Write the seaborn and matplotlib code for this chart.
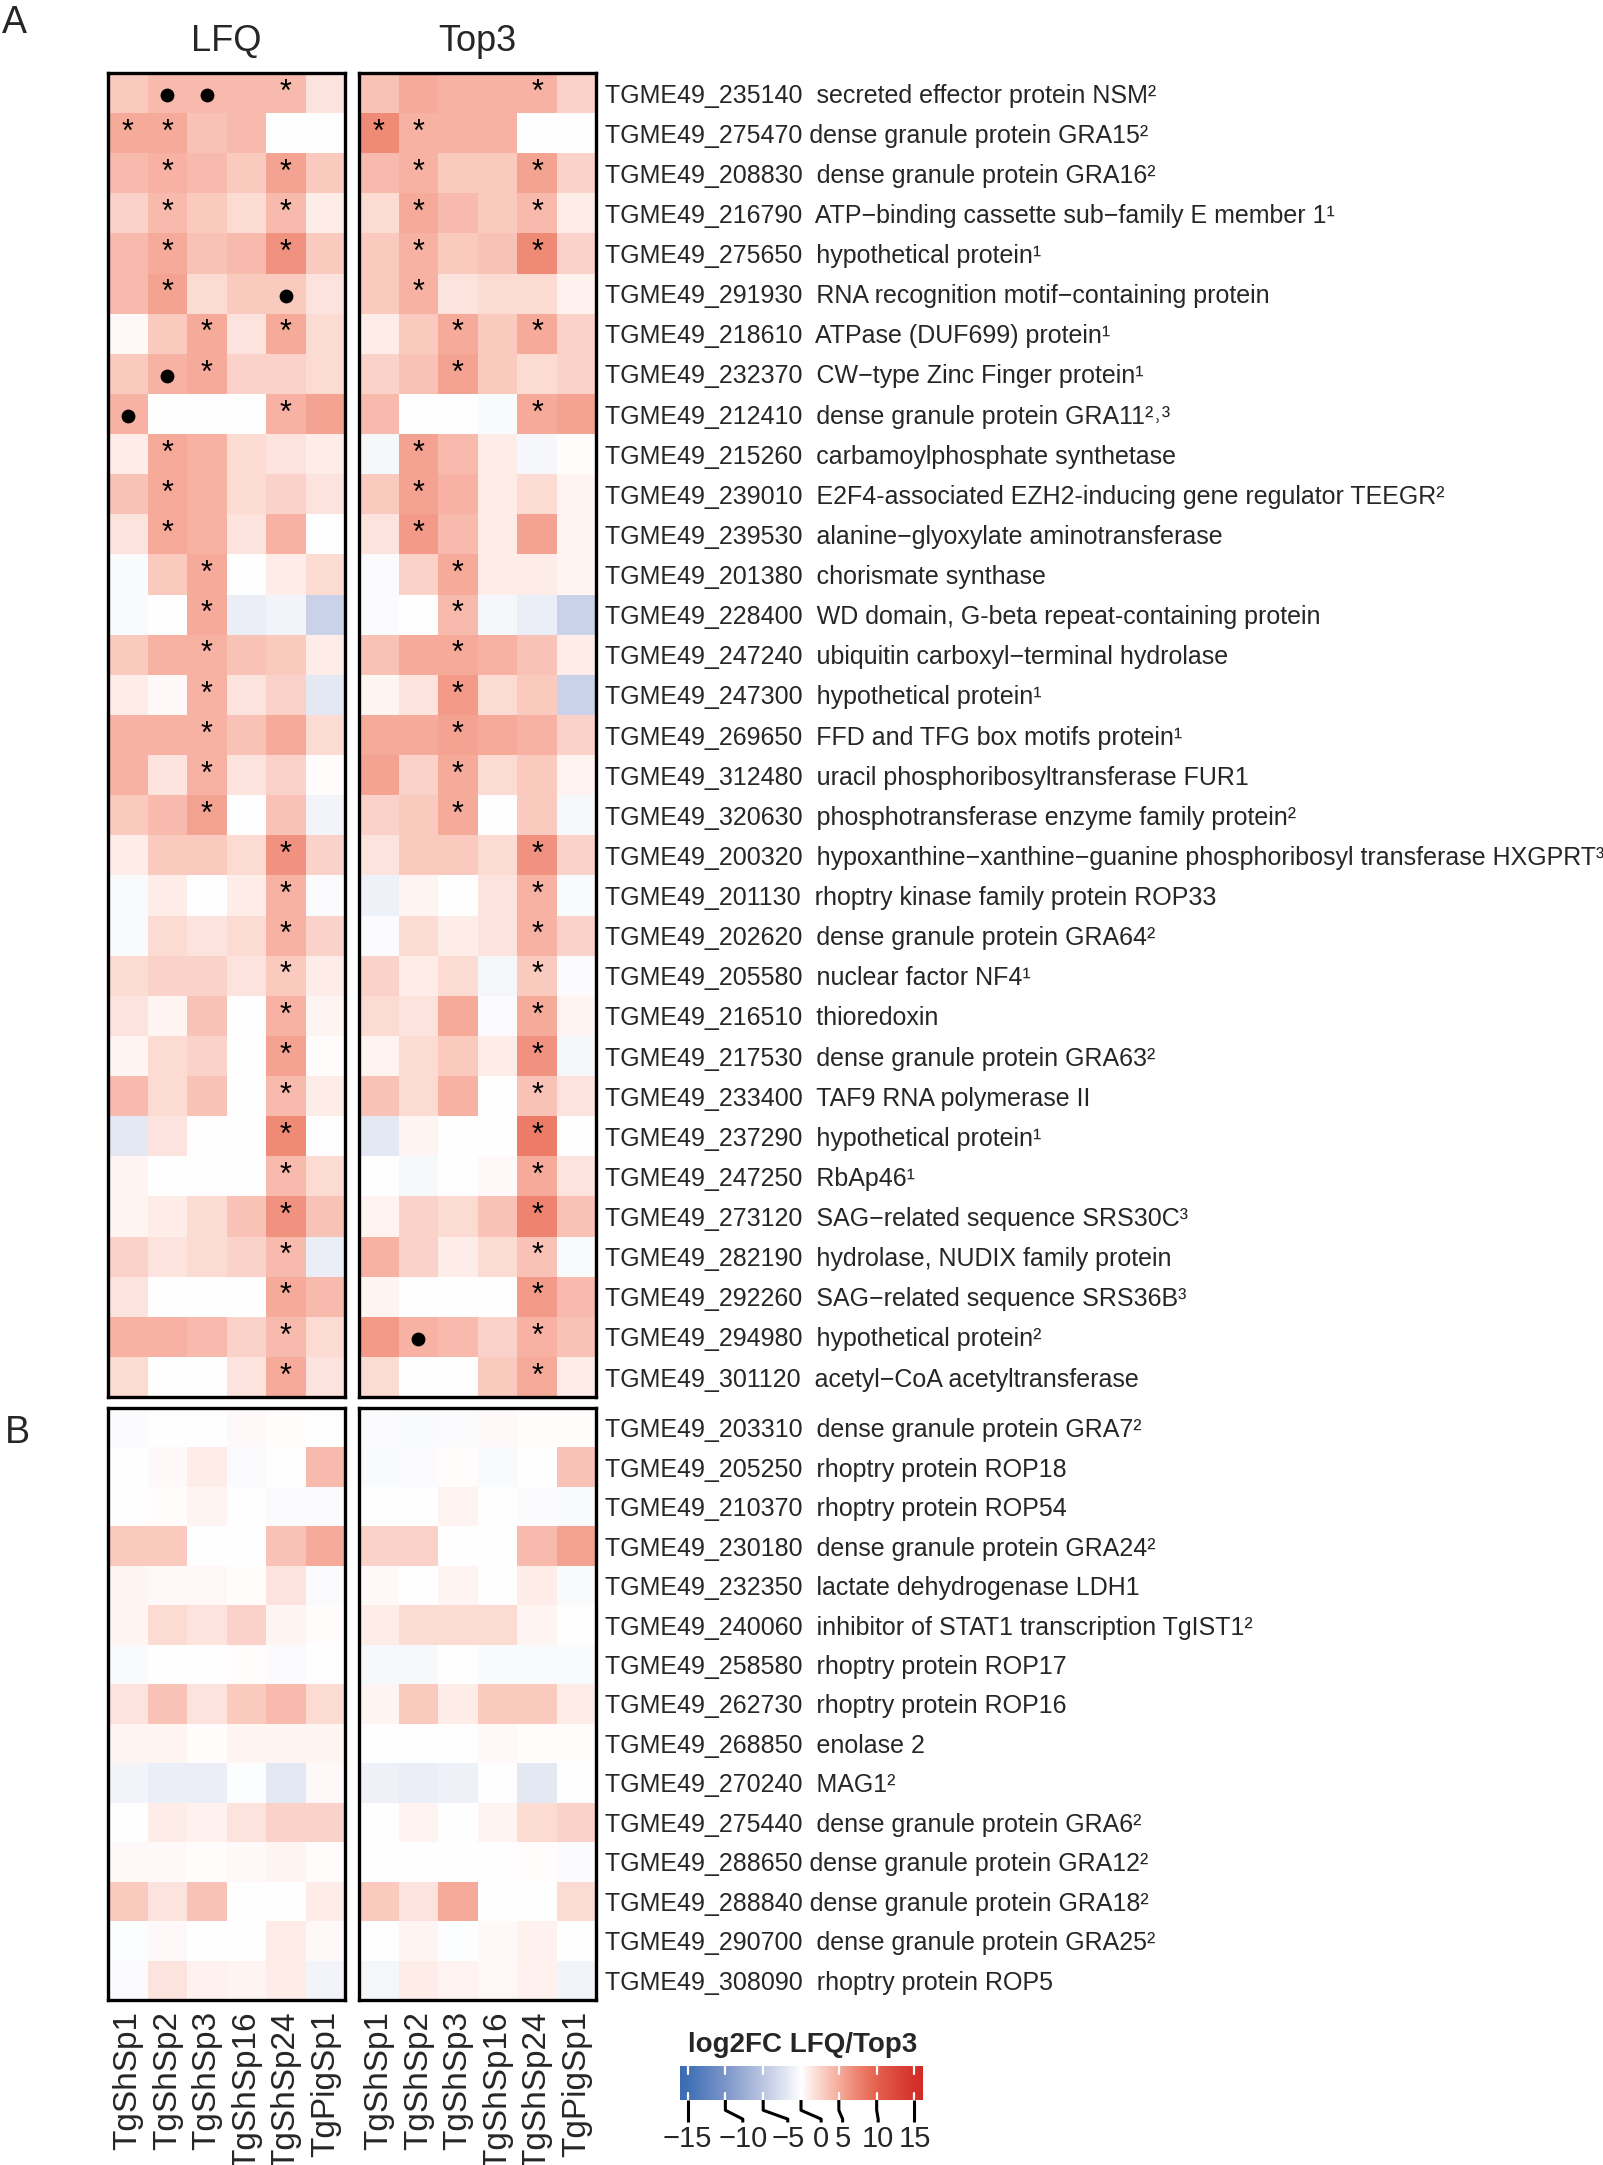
import numpy as np
import pandas as pd
import seaborn as sns
import matplotlib
matplotlib.use("Agg")
import matplotlib.pyplot as plt
from matplotlib.colors import LinearSegmentedColormap
from matplotlib.transforms import blended_transform_factory

# strains (columns of each heatmap)
strains = ["TgShSp1", "TgShSp2", "TgShSp3", "TgShSp16", "TgShSp24", "TgPigSp1"]

# ---- panel A: significantly different proteins ----
genes_a = [
    "TGME49_235140  secreted effector protein NSM²",
    "TGME49_275470 dense granule protein GRA15²",
    "TGME49_208830  dense granule protein GRA16²",
    "TGME49_216790  ATP−binding cassette sub−family E member 1¹",
    "TGME49_275650  hypothetical protein¹",
    "TGME49_291930  RNA recognition motif−containing protein",
    "TGME49_218610  ATPase (DUF699) protein¹",
    "TGME49_232370  CW−type Zinc Finger protein¹",
    "TGME49_212410  dense granule protein GRA11²˒³",
    "TGME49_215260  carbamoylphosphate synthetase",
    "TGME49_239010  E2F4-associated EZH2-inducing gene regulator TEEGR²",
    "TGME49_239530  alanine−glyoxylate aminotransferase",
    "TGME49_201380  chorismate synthase",
    "TGME49_228400  WD domain, G-beta repeat-containing protein",
    "TGME49_247240  ubiquitin carboxyl−terminal hydrolase",
    "TGME49_247300  hypothetical protein¹",
    "TGME49_269650  FFD and TFG box motifs protein¹",
    "TGME49_312480  uracil phosphoribosyltransferase FUR1",
    "TGME49_320630  phosphotransferase enzyme family protein²",
    "TGME49_200320  hypoxanthine−xanthine−guanine phosphoribosyl transferase HXGPRT³",
    "TGME49_201130  rhoptry kinase family protein ROP33",
    "TGME49_202620  dense granule protein GRA64²",
    "TGME49_205580  nuclear factor NF4¹",
    "TGME49_216510  thioredoxin",
    "TGME49_217530  dense granule protein GRA63²",
    "TGME49_233400  TAF9 RNA polymerase II",
    "TGME49_237290  hypothetical protein¹",
    "TGME49_247250  RbAp46¹",
    "TGME49_273120  SAG−related sequence SRS30C³",
    "TGME49_282190  hydrolase, NUDIX family protein",
    "TGME49_292260  SAG−related sequence SRS36B³",
    "TGME49_294980  hypothetical protein²",
    "TGME49_301120  acetyl−CoA acetyltransferase",
]

lfq_a = [
    [3, 4, 4, 4, 4, 1.5],
    [5, 5, 3.5, 4, 0, 0],
    [4, 4.5, 4, 3, 5.5, 3],
    [2.5, 4, 3, 2, 4, 1],
    [4, 5, 3.5, 4, 6.5, 3],
    [4, 5.5, 2, 3, 3, 1.5],
    [0.3, 3, 5, 1.5, 5, 2],
    [3, 4.5, 5, 2.5, 2.5, 2],
    [4.5, 0, 0, 0, 4.5, 5.5],
    [1, 5, 4.5, 2, 1.5, 1],
    [3.5, 5, 4.5, 2, 2.5, 1.5],
    [1.5, 5, 4.5, 1.5, 4.5, 0],
    [-0.5, 3, 5, 0, 1, 2],
    [-0.4, 0, 5, -1.5, -1, -4],
    [3, 4.5, 4.5, 3.5, 3, 1],
    [1, 0.3, 4.5, 1.5, 2.5, -2],
    [4.5, 4.5, 4.5, 3.5, 5, 2],
    [4.5, 1.5, 4.5, 1.5, 2.5, 0.2],
    [3, 4, 5.5, 0, 3.5, -1],
    [1, 3, 3, 2, 6.5, 2.5],
    [-0.5, 1, 0, 1, 4.5, -0.3],
    [-0.5, 2, 1.5, 2, 4.5, 2.5],
    [2, 2.5, 2.5, 1.5, 3, 1],
    [1.5, 0.5, 3.5, 0, 4.5, 0.5],
    [0.5, 2, 2.5, 0, 5.5, 0.2],
    [4, 2, 3.5, 0, 4, 1],
    [-2, 1.5, 0, 0, 7, 0],
    [0.5, 0, 0, 0, 4, 2],
    [0.5, 1, 2, 3.5, 6.5, 3.5],
    [2.5, 1.5, 2, 2.5, 4, -1.5],
    [1.5, 0, 0, 0, 5, 4],
    [4.5, 4.5, 4, 2.5, 4, 2],
    [2, 0, 0, 1.5, 5, 1.5],
]

top3_a = [
    [3.5, 5, 4.5, 4.5, 4.5, 2.5],
    [7, 4.5, 4.5, 4.5, 0, 0],
    [4, 4.5, 3, 3, 5.5, 2.5],
    [2, 5, 4, 3, 4, 1],
    [3, 4.5, 3, 3.5, 7, 2.5],
    [3, 4.5, 1.5, 2, 2, 0.8],
    [1, 3, 5, 3, 5, 2.5],
    [2.5, 3.5, 5.5, 3, 2, 2.5],
    [4, 0, 0, -0.5, 5, 5.5],
    [-0.7, 5.5, 4, 1, -0.7, 0.2],
    [3, 5.5, 4.5, 1, 2, 0.5],
    [1.5, 6, 4, 1, 5.5, 0.5],
    [-0.3, 2.5, 5, 1, 1, 0.5],
    [-0.3, 0, 4, -0.7, -1.5, -4],
    [3.5, 5, 5, 4.5, 3.5, 1],
    [0.5, 1.5, 6, 2, 3, -4],
    [5, 5, 5.5, 5, 4.5, 2.5],
    [5.5, 2.5, 5, 2, 3, 0.7],
    [2.5, 3, 5, 0, 3, -0.6],
    [1.5, 3, 3, 2, 6.5, 2.5],
    [-1.2, 0.5, 0, 1.5, 4.5, -0.5],
    [-0.3, 2, 1, 1.5, 4.5, 2.5],
    [2.5, 1, 2, -0.8, 3, -0.3],
    [2, 1.5, 5, -0.3, 5, 0.5],
    [0.7, 2, 3, 1, 6.5, -0.7],
    [3.5, 2, 4.5, 0, 3.5, 1.5],
    [-2, 0.5, 0, 0, 8, 0],
    [0, -0.6, 0, 0.3, 5, 1.5],
    [0.7, 2.5, 2, 3.5, 7.5, 3.5],
    [4.5, 2.5, 1, 2, 3.5, -0.5],
    [0.6, 0, 0, 0, 6, 4],
    [6, 4.5, 4, 2.5, 4.5, 3.5],
    [2, 0, 0, 3, 5, 1],
]

# 0 = nothing, 1 = "*", 2 = dot
marks_lfq_a = [
    [0, 2, 2, 0, 1, 0], [1, 1, 0, 0, 0, 0], [0, 1, 0, 0, 1, 0], [0, 1, 0, 0, 1, 0],
    [0, 1, 0, 0, 1, 0], [0, 1, 0, 0, 2, 0], [0, 0, 1, 0, 1, 0], [0, 2, 1, 0, 0, 0],
    [2, 0, 0, 0, 1, 0], [0, 1, 0, 0, 0, 0], [0, 1, 0, 0, 0, 0], [0, 1, 0, 0, 0, 0],
    [0, 0, 1, 0, 0, 0], [0, 0, 1, 0, 0, 0], [0, 0, 1, 0, 0, 0], [0, 0, 1, 0, 0, 0],
    [0, 0, 1, 0, 0, 0], [0, 0, 1, 0, 0, 0], [0, 0, 1, 0, 0, 0],
    [0, 0, 0, 0, 1, 0], [0, 0, 0, 0, 1, 0], [0, 0, 0, 0, 1, 0], [0, 0, 0, 0, 1, 0],
    [0, 0, 0, 0, 1, 0], [0, 0, 0, 0, 1, 0], [0, 0, 0, 0, 1, 0], [0, 0, 0, 0, 1, 0],
    [0, 0, 0, 0, 1, 0], [0, 0, 0, 0, 1, 0], [0, 0, 0, 0, 1, 0], [0, 0, 0, 0, 1, 0],
    [0, 0, 0, 0, 1, 0], [0, 0, 0, 0, 1, 0],
]
marks_top3_a = [
    [0, 0, 0, 0, 1, 0], [1, 1, 0, 0, 0, 0], [0, 1, 0, 0, 1, 0], [0, 1, 0, 0, 1, 0],
    [0, 1, 0, 0, 1, 0], [0, 1, 0, 0, 0, 0], [0, 0, 1, 0, 1, 0], [0, 0, 1, 0, 0, 0],
    [0, 0, 0, 0, 1, 0], [0, 1, 0, 0, 0, 0], [0, 1, 0, 0, 0, 0], [0, 1, 0, 0, 0, 0],
    [0, 0, 1, 0, 0, 0], [0, 0, 1, 0, 0, 0], [0, 0, 1, 0, 0, 0], [0, 0, 1, 0, 0, 0],
    [0, 0, 1, 0, 0, 0], [0, 0, 1, 0, 0, 0], [0, 0, 1, 0, 0, 0],
    [0, 0, 0, 0, 1, 0], [0, 0, 0, 0, 1, 0], [0, 0, 0, 0, 1, 0], [0, 0, 0, 0, 1, 0],
    [0, 0, 0, 0, 1, 0], [0, 0, 0, 0, 1, 0], [0, 0, 0, 0, 1, 0], [0, 0, 0, 0, 1, 0],
    [0, 0, 0, 0, 1, 0], [0, 0, 0, 0, 1, 0], [0, 0, 0, 0, 1, 0], [0, 0, 0, 0, 1, 0],
    [0, 2, 0, 0, 1, 0], [0, 0, 0, 0, 1, 0],
]

# ---- panel B: known virulence / marker proteins ----
genes_b = [
    "TGME49_203310  dense granule protein GRA7²",
    "TGME49_205250  rhoptry protein ROP18",
    "TGME49_210370  rhoptry protein ROP54",
    "TGME49_230180  dense granule protein GRA24²",
    "TGME49_232350  lactate dehydrogenase LDH1",
    "TGME49_240060  inhibitor of STAT1 transcription TgIST1²",
    "TGME49_258580  rhoptry protein ROP17",
    "TGME49_262730  rhoptry protein ROP16",
    "TGME49_268850  enolase 2",
    "TGME49_270240  MAG1²",
    "TGME49_275440  dense granule protein GRA6²",
    "TGME49_288650 dense granule protein GRA12²",
    "TGME49_288840 dense granule protein GRA18²",
    "TGME49_290700  dense granule protein GRA25²",
    "TGME49_308090  rhoptry protein ROP5",
]

lfq_b = [
    [-0.3, 0, 0, 0.3, 0.2, 0],
    [0, 0.3, 1, -0.3, 0, 4],
    [0, 0.2, 0.5, 0.1, -0.3, -0.3],
    [3, 3, 0, 0, 3.5, 5],
    [0.5, 0.3, 0.4, 0.2, 1.5, -0.3],
    [0.5, 2, 1.5, 2.5, 0.5, 0.2],
    [-0.5, -0.1, 0, 0.2, -0.3, 0],
    [1.5, 3.5, 1.5, 3, 4, 2],
    [0.5, 0.5, 0.2, 0.5, 0.5, 0.5],
    [-1, -1.5, -1.5, -0.2, -2, 0.3],
    [0.1, 1, 0.8, 1.5, 2.5, 2.5],
    [0.3, 0.3, 0.2, 0.3, 0.5, 0.2],
    [3, 1.5, 3.5, 0, 0, 1],
    [-0.2, 0.3, 0.1, 0, 1, 0.3],
    [-0.3, 1.5, 0.8, 0.5, 1, -1],
]

top3_b = [
    [-0.3, -0.4, -0.3, 0.3, 0.2, 0.2],
    [-0.5, -0.3, 0.2, -0.5, 0, 3.5],
    [0, 0, 0.7, 0, -0.3, -0.4],
    [2.5, 2.5, 0, 0, 4, 5.5],
    [0.3, 0, 0.5, 0.1, 1, -0.4],
    [1, 2, 2, 2, 0.5, 0],
    [-0.6, -0.6, 0, -0.5, -0.5, -0.5],
    [0.5, 3, 1, 3, 3, 1],
    [0, 0, 0, 0.3, 0.2, 0.2],
    [-1.2, -1.5, -1.2, 0, -2, 0],
    [0.1, 0.7, 0, 0.5, 2, 2.5],
    [0, 0, 0, 0, 0.2, -0.3],
    [3, 1.5, 5, 0, 0, 2],
    [0, 0.5, -0.2, 0.3, 0.8, 0],
    [-0.8, 1, 0.7, 0.4, 0.8, -1],
]

# colour scale of the legend
cbar_ticks = [-15, -10, -5, 0, 5, 10, 15]
VMIN, VMAX = -16, 16

stops = [(-16, "#3D6BB4"), (-15, "#4070B6"), (-10, "#7D96CA"), (-5, "#BCC7E2"),
         (-2.5, "#DCE2F0"), (0, "#FFFFFF"), (2.5, "#FBD3CA"), (5, "#F6AB9B"),
         (7.5, "#EE8470"), (10, "#E4614E"), (15, "#D5302A"), (16, "#D22C26")]
cmap = LinearSegmentedColormap.from_list(
    "lfq_top3", [((v - VMIN) / (VMAX - VMIN), c) for v, c in stops])

FONT = ["Liberation Sans", "DejaVu Sans"]

sns.set_style("white")
plt.rcParams["font.family"] = FONT

fig = plt.figure(figsize=(16.03, 21.65), dpi=100)

W = 0.148
x_lfq, x_top3 = 0.0674, 0.2240
rect_a = (0.3547, 0.6116)
rect_b = (0.0762, 0.2735)


def draw(ax, vals, marks, show_x, ylabels):
    df = pd.DataFrame(vals, columns=strains)
    sns.heatmap(df, ax=ax, cmap=cmap, vmin=VMIN, vmax=VMAX, cbar=False,
                xticklabels=strains if show_x else False,
                yticklabels=ylabels if ylabels is not None else False)
    if marks is not None:
        m = np.array(marks)
        for i, j in zip(*np.nonzero(m == 1)):
            ax.text(j + 0.5, i + 0.49, "*", ha="center", va="center",
                    fontsize=22, color="black")
        ii, jj = np.nonzero(m == 2)
        ax.scatter(jj + 0.5, ii + 0.55, s=80, color="black", zorder=5)
    for s in ax.spines.values():
        s.set_visible(True)
        s.set_linewidth(2.4)
        s.set_color("black")
    ax.tick_params(length=0)
    if show_x:
        ax.set_xticklabels(strains, rotation=90, fontsize=24)
        ax.tick_params(axis="x", pad=8)
    if ylabels is not None:
        ax.yaxis.tick_right()
        ax.set_yticklabels(ylabels, rotation=0, ha="left", fontsize=18)
        ax.tick_params(axis="y", pad=6)
    ax.set_xlabel("")
    ax.set_ylabel("")


ax1 = fig.add_axes([x_lfq, rect_a[0], W, rect_a[1]])
ax2 = fig.add_axes([x_top3, rect_a[0], W, rect_a[1]])
ax3 = fig.add_axes([x_lfq, rect_b[0], W, rect_b[1]])
ax4 = fig.add_axes([x_top3, rect_b[0], W, rect_b[1]])

draw(ax1, lfq_a, marks_lfq_a, False, None)
draw(ax2, top3_a, marks_top3_a, False, genes_a)
draw(ax3, lfq_b, None, True, None)
draw(ax4, top3_b, None, True, genes_b)

# column titles and panel letters
fig.text(x_lfq + W / 2, 0.981, "LFQ", ha="center", va="center", fontsize=26)
fig.text(x_top3 + W / 2, 0.981, "Top3", ha="center", va="center", fontsize=26)
fig.text(0.001, 0.9975, "A", ha="left", va="top", fontsize=27)
fig.text(0.003, 0.338, "B", ha="left", va="center", fontsize=27)

# colour legend
cax = fig.add_axes([0.4242, 0.0300, 0.151, 0.0157])
grad = np.linspace(VMIN, VMAX, 512)[None, :]
cax.imshow(grad, extent=[VMIN, VMAX, 0, 1], aspect="auto", cmap=cmap,
           vmin=VMIN, vmax=VMAX)
cax.set_xlim(VMIN, VMAX)
cax.set_ylim(0, 1)
cax.axis("off")
fig.text(0.501, 1 - 2052 / 2165, "log2FC LFQ/Top3", ha="center", va="baseline",
         fontsize=20, fontweight="bold")

# legend labels are pushed apart, so each one gets a short leader line
label_x = [-15, -7.7, -1.75, 2.66, 5.5, 10.2, 15]
tr = blended_transform_factory(cax.transData, cax.transAxes)
for t, lx in zip(cbar_ticks, label_x):
    cax.plot([t, t], [0.78, 1.0], color="white", lw=1.6, transform=tr, clip_on=False)
    cax.plot([t, t], [0.0, 0.22], color="white", lw=1.6, transform=tr, clip_on=False)
    cax.plot([t, t, lx, lx], [0.0, -0.3, -0.56, -0.66], color="black", lw=2.2,
             transform=tr, clip_on=False, solid_capstyle="butt")
    cax.text(lx, -0.72, f"{t}".replace("-", "−"), transform=tr, ha="center",
             va="top", fontsize=21)

fig.savefig("out.png", dpi=100)
